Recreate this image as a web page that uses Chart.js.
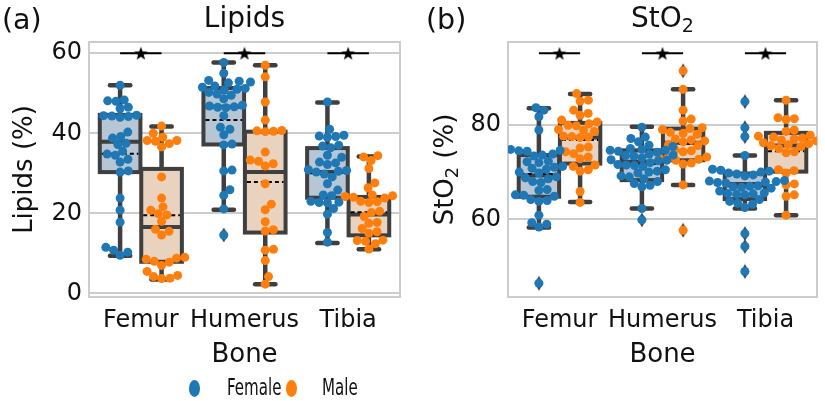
<!DOCTYPE html>
<html><head><meta charset="utf-8">
<script src="https://cdn.jsdelivr.net/npm/chart.js@4.4.1/dist/chart.umd.min.js"></script>
<style>
html,body{margin:0;padding:0;background:#fff;}
body{width:825px;height:401px;position:relative;overflow:hidden;font-family:'DejaVu Sans',sans-serif;}
.wrap{position:absolute;top:0;height:401px;}
.lg-dot{position:absolute;width:11px;height:16.5px;border-radius:50%;}
.lg-txt{position:absolute;font-size:23px;line-height:23px;color:#111;transform:scaleX(0.655);transform-origin:0 0;white-space:nowrap;}
</style></head><body>
<div class="wrap" style="left:0;width:412px;"><canvas id="ca" width="412" height="401"></canvas></div>
<div class="wrap" style="left:412px;width:413px;"><canvas id="cb" width="413" height="401"></canvas></div>
<div class="lg-dot" style="left:188.5px;top:380px;background:#1f77b4;"></div>
<div class="lg-txt" style="left:227px;top:375.5px;">Female</div>
<div class="lg-dot" style="left:285.5px;top:380px;background:#ff7f0e;"></div>
<div class="lg-txt" style="left:322px;top:375.5px;">Male</div>
<script>
// ---------------- data ----------------
const categories = ['Femur', 'Humerus', 'Tibia'];
const lipidsTicks = [0, 20, 40, 60];
const stO2Ticks = [60, 80];
const lipidsSigY = 60;
const stO2SigY = 95.1;

const lipidsFemale = [
  [52.0,48.3,48.1,48.0,46.5,46.2,44.5,44.4,44.3,44.2,44.0,40.3,39.2,38.8,37.5,37.2,35.5,34.8,34.5,33.5,32.8,30.6,30.3,23.8,20.8,17.8,11.5,10.8,10.3,9.5],
  [57.7,55.0,53.2,53.0,52.8,52.6,51.8,51.5,51.2,51.0,50.8,50.2,49.8,49.5,48.6,47.0,46.8,46.6,46.5,46.4,44.4,41.5,41.0,39.6,37.3,37.1,30.8,30.6,25.9,24.5,21.1,14.6],
  [47.8,41.0,39.5,39.3,39.2,39.0,37.0,36.8,36.4,34.5,34.0,32.8,32.6,32.2,30.9,30.7,30.5,30.3,29.8,29.1,27.4,25.8,24.6,24.4,23.0,22.8,22.7,22.6,21.2,19.8,15.2,12.8]
];
const lipidsMale = [
  [41.8,40.0,39.0,38.2,38.2,38.0,37.4,36.6,29.1,23.8,21.6,20.8,19.9,19.6,18.0,16.0,15.5,14.6,9.0,8.8,8.5,8.0,7.8,7.0,5.5,4.5,4.2,3.8,3.7],
  [57.0,54.1,47.8,43.3,40.7,40.6,40.5,40.4,35.3,33.3,33.0,32.4,31.8,27.4,22.3,20.9,17.9,15.9,15.6,11.0,10.8,8.2,4.2,2.3],
  [34.4,34.1,33.2,31.2,27.6,26.4,24.6,24.4,24.2,24.0,23.8,23.0,22.9,22.7,20.5,20.2,19.2,17.7,17.5,16.2,15.4,15.0,13.3,13.2,13.0,12.4,11.1]
];
// box statistics per bone: [lower whisker, Q1, median, Q3, upper whisker, mean]
const lipidsFemaleBox = [[9.4,30.3,37.9,44.6,52.0,34.9],[20.9,37.2,46.6,51.3,57.7,43.3],[12.6,23.9,30.3,36.3,47.7,30.0]];
const lipidsMaleBox   = [[3.5,7.9,16.6,31.1,41.7,19.5],[2.3,15.2,30.3,40.4,57.0,27.8],[11.0,14.5,19.7,24.1,34.2,20.3]];
const lipidsFemaleFliers = [[],[14.6],[]];
const lipidsMaleFliers   = [[],[],[]];

const stO2Female = [
  [83.6,83.1,81.7,78.9,74.8,74.6,74.5,74.4,73.8,73.6,73.4,72.3,72.2,72.0,71.2,71.0,70.8,70.6,70.0,69.8,69.0,68.8,68.6,68.0,67.8,66.3,66.1,65.2,65.1,64.9,64.2,64.0,63.8,60.9,59.3,59.0,58.4,46.5],
  [79.5,77.4,77.1,76.4,75.7,75.4,75.0,74.8,74.6,74.6,74.4,74.2,73.8,73.6,73.5,73.4,73.0,72.6,72.5,72.4,72.0,71.6,71.5,71.4,71.2,70.5,70.2,70.0,69.8,69.2,69.0,68.6,68.0,67.6,67.2,66.9,62.3,59.9],
  [84.9,79.4,77.5,73.5,70.6,70.4,70.2,70.0,69.8,69.6,69.4,69.2,68.2,68.1,68.0,67.9,67.8,67.7,67.1,67.0,66.9,66.8,66.6,66.0,65.6,65.5,65.4,65.3,65.2,64.2,63.8,63.4,63.2,62.5,57.0,54.3,49.0]
];
const stO2Male = [
  [86.6,85.2,85.0,83.1,82.4,82.0,81.0,80.6,80.2,79.9,79.8,79.0,78.9,78.6,77.6,77.5,77.4,77.3,75.3,75.1,74.3,73.9,73.2,72.8,71.5,71.2,70.5,70.2,65.9,63.6],
  [91.4,87.5,83.1,81.2,80.8,79.4,79.2,79.0,78.4,78.2,78.0,77.0,76.8,76.6,76.4,75.8,75.6,74.7,74.5,74.3,73.2,73.0,72.9,72.7,72.5,71.9,71.7,67.3,57.7],
  [85.2,81.5,81.3,81.1,78.9,78.6,77.8,77.6,77.4,77.2,77.0,76.8,76.6,76.2,76.0,75.8,75.6,75.4,75.0,74.3,74.1,70.5,70.3,69.8,67.5,67.3,65.2,64.9,60.9]
];
const stO2FemaleBox = [[58.3,64.8,69.3,73.6,83.5,69.6],[62.3,68.3,72.2,74.6,79.6,71.7],[62.3,64.3,67.5,69.7,73.5,67.0]];
const stO2MaleBox   = [[63.7,71.8,77.3,80.4,86.5,76.8],[67.3,72.5,76.2,79.2,87.5,76.0],[60.9,70.1,75.6,78.3,85.2,74.4]];
const stO2FemaleFliers = [[46.5],[59.9],[84.9,79.4,77.5,57.0,54.3,49.0]];
const stO2MaleFliers   = [[],[91.4,57.7],[]];

// ---------------- style ----------------
const FF = "'DejaVu Sans', sans-serif";
const BLUE = '#1f77b4', ORANGE = '#ff7f0e';
const BLUE_BOX = '#b6c6d4', ORANGE_BOX = '#e9d3bf';
const EDGE = '#3f3f3f';
const TXT = '#111111';
const SWARM_D = 8.3;
Chart.defaults.font.family = FF;
Chart.defaults.color = TXT;

function makeStar() {
  const c = document.createElement('canvas'); c.width = 16; c.height = 16;
  const g = c.getContext('2d'); g.fillStyle = '#000'; g.beginPath();
  for (let k = 0; k < 10; k++) {
    const r = k % 2 ? 2.9 : 7.2; const a = -Math.PI / 2 + k * Math.PI / 5;
    const px = 8 + r * Math.cos(a), py = 8.6 + r * Math.sin(a);
    k ? g.lineTo(px, py) : g.moveTo(px, py);
  }
  g.closePath(); g.fill(); return c;
}
function makeDiamond() {
  const c = document.createElement('canvas'); c.width = 10; c.height = 16;
  const g = c.getContext('2d'); g.fillStyle = EDGE; g.beginPath();
  g.moveTo(5, 0.5); g.lineTo(9.2, 8); g.lineTo(5, 15.5); g.lineTo(0.8, 8); g.closePath(); g.fill(); return c;
}
const starImg = makeStar(), diamondImg = makeDiamond();

function beeswarm(py, d) {
  const idx = py.map((_, i) => i).sort((a, b) => py[b] - py[a]);
  const placed = []; const out = new Array(py.length).fill(0);
  for (const i of idx) {
    const y = py[i];
    const nb = placed.filter(p => Math.abs(p.y - y) < d);
    const cands = [0];
    nb.forEach(p => { const dx = Math.sqrt(d * d - (p.y - y) ** 2); cands.push(p.x + dx, p.x - dx); });
    cands.sort((a, b) => Math.abs(a) - Math.abs(b));
    let cx = 0;
    for (const c of cands) { if (nb.every(p => (p.x - c) ** 2 + (p.y - y) ** 2 >= d * d - 0.01)) { cx = c; break; } }
    placed.push({ x: cx, y }); out[i] = cx;
  }
  return out;
}

function line(ctx, x1, y1, x2, y2) { ctx.beginPath(); ctx.moveTo(x1, y1); ctx.lineTo(x2, y2); ctx.stroke(); }

function makeBoxPlugin(hues) {
  return { id: 'boxes', beforeDatasetsDraw(chart) {
    const { ctx, chartArea: a, scales: { x, y } } = chart;
    ctx.save();
    ctx.strokeStyle = '#cccccc'; ctx.lineWidth = 2; ctx.strokeRect(a.left, a.top, a.width, a.height);
    hues.forEach(h => h.box.forEach((s, i) => {
      const [wlo, q1, med, q3, whi, mean] = s;
      const c = i + h.off;
      const xl = x.getPixelForValue(c - 0.196), xr = x.getPixelForValue(c + 0.196), xc = x.getPixelForValue(c);
      const cw = (xr - xl) / 4;
      const Y = v => y.getPixelForValue(v);
      ctx.strokeStyle = EDGE; ctx.lineWidth = 4.5; ctx.lineCap = 'round';
      line(ctx, xc, Y(q3), xc, Y(whi)); line(ctx, xc, Y(q1), xc, Y(wlo));
      line(ctx, xc - cw, Y(whi), xc + cw, Y(whi)); line(ctx, xc - cw, Y(wlo), xc + cw, Y(wlo));
      ctx.lineCap = 'butt';
      ctx.fillStyle = h.fill; ctx.fillRect(xl, Y(q3), xr - xl, Y(q1) - Y(q3));
      ctx.lineWidth = 4; ctx.strokeRect(xl, Y(q3), xr - xl, Y(q1) - Y(q3));
      line(ctx, xl, Y(med), xr, Y(med));
      ctx.setLineDash([4, 3]); ctx.strokeStyle = '#000'; ctx.lineWidth = 2;
      line(ctx, xl + 2, Y(mean), xr - 2, Y(mean)); ctx.setLineDash([]);
    }));
    ctx.restore();
  } };
}

function drawParts(ctx, parts, cx, base, size) {
  const sub = size * 0.68;
  let w = 0;
  parts.forEach(p => { ctx.font = (p[1] ? sub : size) + 'px ' + FF; w += ctx.measureText(p[0]).width; });
  let x0 = cx - w / 2;
  ctx.textAlign = 'left'; ctx.textBaseline = 'alphabetic';
  parts.forEach(p => {
    ctx.font = (p[1] ? sub : size) + 'px ' + FF;
    ctx.fillText(p[0], x0, base + (p[1] ? size * 0.19 : 0));
    x0 += ctx.measureText(p[0]).width;
  });
}

function makeTextPlugin(cfg) {
  return { id: 'texts', afterDraw(chart) {
    const { ctx, chartArea: a } = chart;
    const mid = (a.left + a.right) / 2;
    ctx.save(); ctx.fillStyle = TXT;
    ctx.font = '28.5px ' + FF; ctx.textAlign = 'left'; ctx.textBaseline = 'alphabetic';
    ctx.fillText(cfg.panel, cfg.panelX, 29);
    drawParts(ctx, cfg.title, mid, 27, 28);
    ctx.font = '26px ' + FF; ctx.textAlign = 'center';
    ctx.fillText('Bone', mid, 362);
    ctx.translate(cfg.ylabelX, (a.top + a.bottom) / 2); ctx.rotate(-Math.PI / 2);
    drawParts(ctx, cfg.ylabel, 0, 8, 26);
    ctx.restore();
  } };
}

function pts(arrs, off) { return arrs.flatMap((arr, i) => arr.map(v => ({ x: i + off, y: v }))); }

function makeChart(id, cfg) {
  const hues = [
    { label: 'Female', vals: cfg.female, box: cfg.femaleBox, fliers: cfg.femaleFliers, off: -0.2, color: BLUE, fill: BLUE_BOX },
    { label: 'Male', vals: cfg.male, box: cfg.maleBox, fliers: cfg.maleFliers, off: 0.2, color: ORANGE, fill: ORANGE_BOX }
  ];
  const ds = [], specs = [];
  hues.forEach(h => {
    specs.push({ index: ds.length, vals: h.vals, off: h.off });
    ds.push({ label: h.label, data: pts(h.vals, h.off), pointBackgroundColor: h.color, pointBorderWidth: 0, pointRadius: 4.5, order: 0 });
  });
  hues.forEach(h => ds.push({ label: h.label + ' outliers', data: pts(h.fliers, h.off), pointStyle: diamondImg, pointRadius: 5, order: 1 }));
  categories.forEach((c, i) => ds.push({ label: 'sig ' + c, data: [{ x: i - 0.2, y: cfg.sigY }, { x: i + 0.2, y: cfg.sigY }], showLine: true, borderColor: '#000', borderWidth: 2, pointRadius: 0, order: 2 }));
  ds.push({ label: 'significance', data: categories.map((c, i) => ({ x: i, y: cfg.sigY })), pointStyle: starImg, pointRadius: 7, order: 0 });

  const chart = new Chart(document.getElementById(id), {
    type: 'scatter',
    data: { datasets: ds },
    options: {
      responsive: false, animation: false, events: [],
      layout: { padding: { left: 0, right: cfg.padRight, top: 42, bottom: 0 } },
      plugins: { legend: { display: false }, tooltip: { enabled: false }, title: { display: false } },
      scales: {
        x: { type: 'linear', min: -0.5, max: 2.5,
             afterBuildTicks: ax => { ax.ticks = categories.map((c, i) => ({ value: i })); },
             afterFit: s => { s.height = 104; },
             ticks: { callback: v => categories[v], font: { size: 24 }, color: TXT, padding: 1, maxRotation: 0, autoSkip: false },
             grid: { display: false }, border: { display: false } },
        y: { type: 'linear', min: cfg.yMin, max: cfg.yMax,
             afterBuildTicks: ax => { ax.ticks = cfg.ticks.map(v => ({ value: v })); },
             afterFit: s => { s.width = cfg.yWidth; },
             ticks: { font: { size: 24 }, color: TXT, padding: 7 },
             grid: { color: '#cccccc', lineWidth: 2, drawTicks: false }, border: { display: false } }
      }
    },
    plugins: [makeBoxPlugin(hues), makeTextPlugin(cfg)]
  });
  // swarm layout (pixel space -> data space)
  const xs = chart.scales.x, ys = chart.scales.y;
  const ppu = xs.getPixelForValue(1) - xs.getPixelForValue(0);
  specs.forEach(sp => {
    const data = [];
    sp.vals.forEach((arr, i) => {
      const offs = beeswarm(arr.map(v => ys.getPixelForValue(v)), SWARM_D);
      arr.forEach((v, k) => data.push({ x: i + sp.off + offs[k] / ppu, y: v }));
    });
    chart.data.datasets[sp.index].data = data;
  });
  chart.update('none');
  return chart;
}

makeChart('ca', {
  female: lipidsFemale, male: lipidsMale, femaleBox: lipidsFemaleBox, maleBox: lipidsMaleBox,
  femaleFliers: lipidsFemaleFliers, maleFliers: lipidsMaleFliers, ticks: lipidsTicks, sigY: lipidsSigY,
  yMin: -0.9, yMax: 62.8, yWidth: 89, padRight: 12,
  panel: '(a)', panelX: 2, title: [['Lipids', false]], ylabel: [['Lipids (%)', false]], ylabelX: 24
});
makeChart('cb', {
  female: stO2Female, male: stO2Male, femaleBox: stO2FemaleBox, maleBox: stO2MaleBox,
  femaleFliers: stO2FemaleFliers, maleFliers: stO2MaleFliers, ticks: stO2Ticks, sigY: stO2SigY,
  yMin: 43.6, yMax: 97.5, yWidth: 96, padRight: 5,
  panel: '(b)', panelX: 14, title: [['StO', false], ['2', true]], ylabel: [['StO', false], ['2', true], [' (%)', false]], ylabelX: 33
});
</script>
</body></html>
